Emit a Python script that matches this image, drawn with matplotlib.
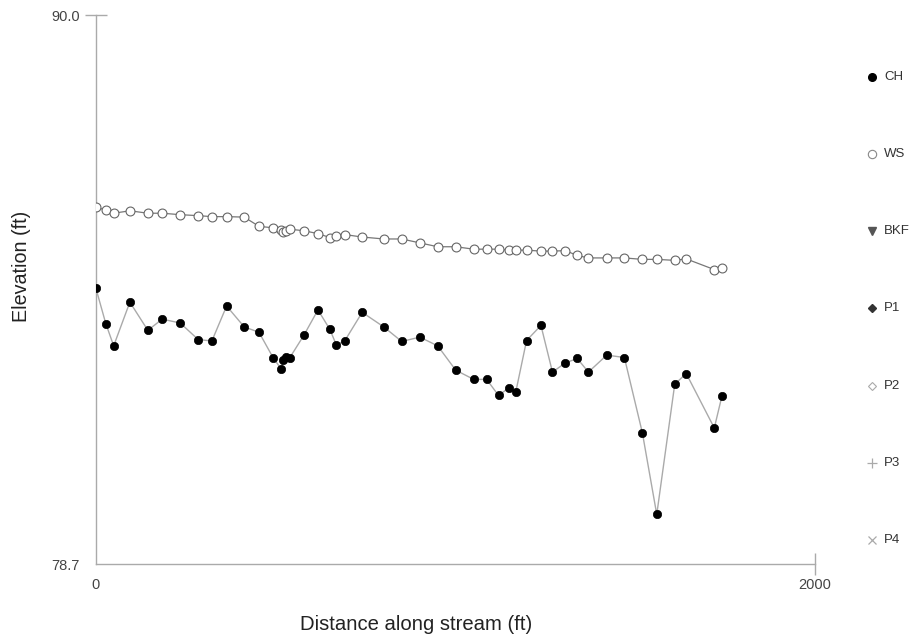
import matplotlib
matplotlib.use("Agg")
import matplotlib.pyplot as plt
from matplotlib.lines import Line2D

plt.rcParams['font.family'] = ['Liberation Sans', 'DejaVu Sans']

# Data
distance_ft = [0, 28, 50, 95, 145, 185, 235, 285, 323, 364, 413, 454, 493, 516, 520,
               528, 540, 579, 618, 651, 669, 693, 741, 801, 851, 901, 951, 1001, 1051,
               1087, 1120, 1148, 1168, 1198, 1238, 1270, 1306, 1339, 1370, 1421, 1470,
               1520, 1560, 1610, 1642, 1720, 1741]
ch_elev = [84.39, 83.65, 83.19, 84.09, 83.51, 83.74, 83.66, 83.32, 83.29, 84.01, 83.58,
           83.47, 82.95, 82.71, 82.90, 82.97, 82.95, 83.41, 83.93, 83.53, 83.21, 83.30,
           83.88, 83.58, 83.28, 83.37, 83.19, 82.69, 82.50, 82.50, 82.17, 82.32, 82.24,
           83.30, 83.61, 82.65, 82.84, 82.93, 82.65, 83.00, 82.95, 81.40, 79.72, 82.40,
           82.62, 81.50, 82.15]
ws_elev = [86.04, 85.99, 85.92, 85.97, 85.92, 85.92, 85.89, 85.87, 85.85, 85.85, 85.84,
           85.65, 85.62, 85.57, 85.54, 85.56, 85.59, 85.56, 85.50, 85.42, 85.46, 85.48,
           85.43, 85.39, 85.39, 85.31, 85.23, 85.23, 85.18, 85.18, 85.18, 85.16, 85.16,
           85.16, 85.14, 85.14, 85.15, 85.05, 85.00, 85.00, 85.00, 84.97, 84.97, 84.95,
           84.98, 84.76, 84.80]
legend_labels = ["CH", "WS", "BKF", "P1", "P2", "P3", "P4"]
x_ticks = [0, 2000]
y_ticks = [78.7, 90.0]

W, H = 911, 637
fig = plt.figure(figsize=(W / 100, H / 100), dpi=100)
ax = fig.add_axes([95.7 / W, 1 - 564 / H, (815 - 95.7) / W, (564 - 15) / H])

ax.plot(distance_ft, ws_elev, color="#777777", lw=0.9, marker="o", ms=6.4,
        mfc="white", mec="#666666", mew=0.8, zorder=3)
ax.plot(distance_ft, ch_elev, color="#aaaaaa", lw=1.0, marker="o", ms=6.0,
        mfc="black", mec="black", mew=0.5, zorder=4)

ax.set_xlim(0, 2000)
ax.set_ylim(78.7, 90.0)
ax.set_xticks(x_ticks)
ax.set_xticklabels(["0", "2000"])
ax.set_yticks(y_ticks)
ax.set_yticklabels(["78.7", "90.0"])
for s in ["top", "right"]:
    ax.spines[s].set_visible(False)
for s in ["left", "bottom"]:
    ax.spines[s].set_color("#aaaaaa")
    ax.spines[s].set_linewidth(1.0)
ax.tick_params(direction="inout", length=16.5, width=1.0, color="#aaaaaa",
               labelsize=10.5, labelcolor="#444444", pad=3)
ax.tick_params(axis="x", pad=2)
ax.xaxis.get_major_ticks()[0].tick1line.set_visible(False)
ax.yaxis.get_major_ticks()[0].tick1line.set_visible(False)

fig.text(416 / W, 1 - 624 / H, "Distance along stream (ft)", ha="center", va="center",
         fontsize=14.6, color="#222222")
fig.text(21.5 / W, 1 - 266 / H, "Elevation (ft)", ha="center", va="center",
         rotation=90, fontsize=14.2, color="#222222")

# Legend (manual placement)
leg_y = [76.5, 154, 230.7, 308, 385.7, 463, 540]
styles = [
    dict(marker="o", mfc="black", mec="black", ms=5.5),
    dict(marker="o", mfc="white", mec="#888888", ms=6, mew=0.8),
    dict(marker="v", mfc="#555555", mec="#555555", ms=6),
    dict(marker="D", mfc="#333333", mec="#333333", ms=4.5),
    dict(marker="D", mfc="white", mec="#aaaaaa", ms=4.5, mew=0.8),
    dict(marker="+", mec="#aaaaaa", ms=7, mew=0.9),
    dict(marker="x", mec="#aaaaaa", ms=6, mew=0.9),
]
for lab, yy, st in zip(legend_labels, leg_y, styles):
    fig.add_artist(Line2D([872 / W], [1 - yy / H], transform=fig.transFigure,
                          linestyle="none", **st))
    fig.text(884 / W, 1 - yy / H, lab, ha="left", va="center", fontsize=9.5,
             color="#333333")

fig.savefig("out.png", dpi=100)
